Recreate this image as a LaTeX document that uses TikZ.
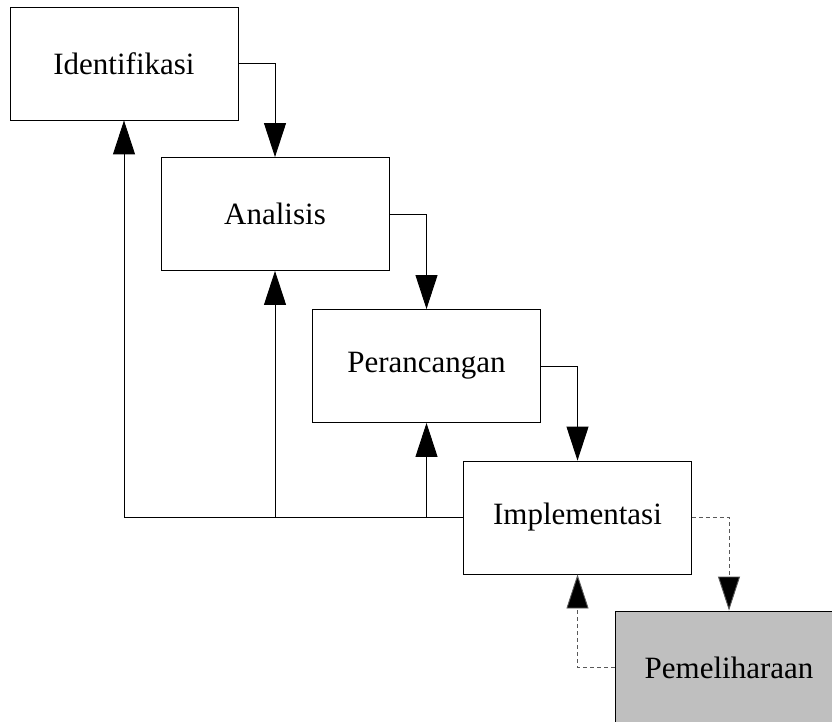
\documentclass[tikz,border=0pt]{standalone}
\usepackage{fontspec}
\setmainfont{Liberation Serif}
\usetikzlibrary{arrows.meta}
\begin{document}
\begin{tikzpicture}[x=1pt,y=-1pt,
  stage/.style={draw=black,line width=0.9pt,minimum width=228pt,minimum height=113pt,
    inner sep=0pt,font=\fontsize{31}{37}\selectfont},
  flow/.style={line width=0.9pt,-{Triangle[length=34pt,width=22pt]}},
  maint/.style={flow,draw=black!65,dash pattern=on 4pt off 3pt}]
  \clip (0,0) rectangle (832,722);
  \fill[white] (0,0) rectangle (832,722);

  % the five stages, stepping down to the right
  \node[stage] (ident) at (124,63.5) {Identifikasi};
  \node[stage] (anal)  at (275,214)  {Analisis};
  \node[stage] (perc)  at (426.5,366) {Perancangan};
  \node[stage] (impl)  at (577.5,517.5) {Implementasi};
  \node[stage,fill=black!25] (pem) at (729,667.5) {Pemeliharaan};

  % forward flow
  \draw[flow] (ident.east) -| (anal.north);
  \draw[flow] (anal.east) -| (perc.north);
  \draw[flow] (perc.east) -| (impl.north);
  \draw[maint,-{Triangle[length=34pt,width=22pt,fill=black]}] (impl.east) -| (pem.north);

  % feedback from implementation
  \coordinate (fb) at (ident.south |- impl.west);
  \draw[line width=0.9pt] (impl.west) -- (fb);
  \draw[flow] (fb) -- (ident.south);
  \draw[flow] (anal.south |- impl.west) -- (anal.south);
  \draw[flow] (perc.south |- impl.west) -- (perc.south);

  % feedback from maintenance
  \draw[maint,-{Triangle[length=34pt,width=22pt,fill=black]}] (pem.west) -| (impl.south);
\end{tikzpicture}
\end{document}
